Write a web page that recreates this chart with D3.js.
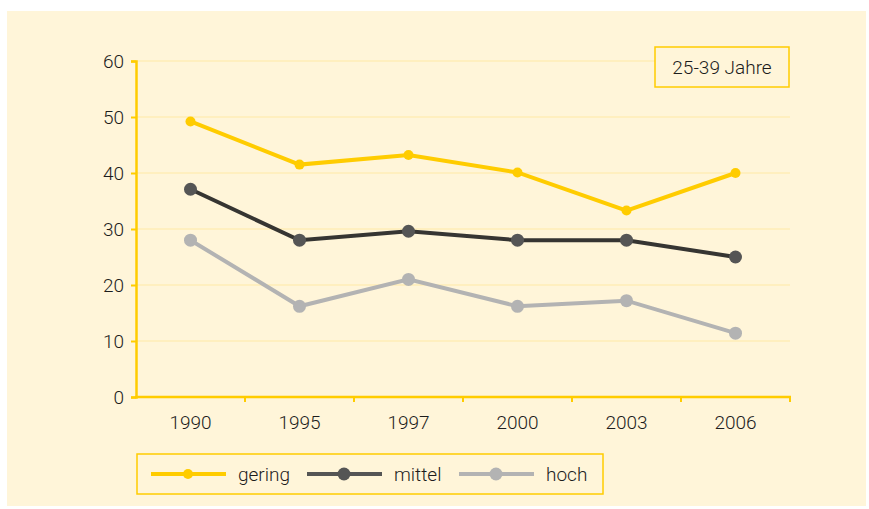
<!DOCTYPE html>
<html>
<head>
<meta charset="utf-8">
<script src="https://cdn.jsdelivr.net/npm/d3@7"></script>
<style>
  body { margin: 0; background: #fff; }
  text { font-family: Roboto, "DejaVu Sans Condensed", sans-serif; font-weight: 300; fill: #1c1c1c; }
</style>
</head>
<body>
<div id="chart"></div>
<script>
// data
const years = ["1990", "1995", "1997", "2000", "2003", "2006"];
const gering = [49.2, 41.5, 43.2, 40.1, 33.3, 40.0];
const mittel = [37.1, 28.0, 29.6, 28.0, 28.0, 25.0];
const hoch = [28.0, 16.2, 21.0, 16.2, 17.2, 11.4];
const yTicks = [0, 10, 20, 30, 40, 50, 60];
const label = "25-39 Jahre";

const series = [
  { name: "gering", values: gering, line: "#ffcc00", dot: "#ffcc00", key: "#ffcc00", r: 5 },
  { name: "mittel", values: mittel, line: "#363532", dot: "#555555", key: "#555555", r: 6.5 },
  { name: "hoch", values: hoch, line: "#b3b3b3", dot: "#b3b3b3", key: "#b3b3b3", r: 6.5 }
];

const width = 869;
const height = 509;
const margin = { top: 61, right: 79, bottom: 112, left: 136 };
const axisColor = "#ffcc00";
const fontSize = "19px";

const svg = d3.select("#chart")
  .append("svg")
  .attr("width", width)
  .attr("height", height);

// cream panel
svg.append("rect")
  .attr("x", 7).attr("y", 11)
  .attr("width", 859).attr("height", 495)
  .attr("fill", "#fff5d9");

const x = d3.scaleBand()
  .domain(years)
  .range([margin.left, width - margin.right]);

const y = d3.scaleLinear()
  .domain([0, 60])
  .range([height - margin.bottom, margin.top]);

// grid
svg.append("g")
  .selectAll("line")
  .data(yTicks.filter(d => d > 0))
  .join("line")
    .attr("x1", margin.left)
    .attr("x2", width - margin.right)
    .attr("y1", d => y(d))
    .attr("y2", d => y(d))
    .attr("stroke", "#ffe9a6")
    .attr("stroke-width", 1.2);

const yAxis = g => {
  g.attr("transform", `translate(${margin.left}, 0)`)
    .call(d3.axisLeft(y).tickValues(yTicks).tickSize(5).tickPadding(7))
    .attr("font-size", fontSize);
  g.select(".domain").attr("stroke", axisColor).attr("stroke-width", 2.5);
  g.selectAll(".tick line").attr("stroke", axisColor).attr("stroke-width", 2);
  g.selectAll(".tick text").attr("fill", "#1c1c1c").attr("dy", "0.35em");
};

// x axis ticks sit on the band boundaries
const xAxis = g => {
  g.attr("transform", `translate(0, ${y(0)})`);
  g.append("line")
    .attr("x1", margin.left - 1)
    .attr("x2", width - margin.right + 1)
    .attr("stroke", axisColor)
    .attr("stroke-width", 2.5);
  g.selectAll(".bt")
    .data(years.slice(1).concat(["end"]))
    .join("line")
      .attr("class", "bt")
      .attr("x1", (d, i) => i < years.length - 1 ? x(d) : x(years[years.length - 1]) + x.bandwidth())
      .attr("x2", (d, i) => i < years.length - 1 ? x(d) : x(years[years.length - 1]) + x.bandwidth())
      .attr("y1", 0)
      .attr("y2", 5)
      .attr("stroke", axisColor)
      .attr("stroke-width", 2);
  g.selectAll("text")
    .data(years)
    .join("text")
      .attr("x", d => x(d) + x.bandwidth() / 2)
      .attr("y", 32)
      .attr("text-anchor", "middle")
      .attr("font-size", fontSize)
      .text(d => d);
};

svg.append("g").call(yAxis);
svg.append("g").call(xAxis);

const line = d3.line()
  .x((d, i) => x(years[i]) + x.bandwidth() / 2)
  .y(d => y(d));

series.forEach(s => {
  svg.append("path")
    .datum(s.values)
    .attr("fill", "none")
    .attr("stroke", s.line)
    .attr("stroke-width", 4)
    .attr("d", line);
  svg.append("g")
    .selectAll("circle")
    .data(s.values)
    .join("circle")
      .attr("cx", (d, i) => x(years[i]) + x.bandwidth() / 2)
      .attr("cy", d => y(d))
      .attr("r", s.r)
      .attr("fill", s.dot);
});

// age label box
const lb = svg.append("g").attr("transform", "translate(655, 47)");
lb.append("rect")
  .attr("width", 134).attr("height", 40)
  .attr("fill", "#fff5d9")
  .attr("stroke", axisColor)
  .attr("stroke-width", 1.5);
lb.append("text")
  .attr("x", 67).attr("y", 20).attr("dy", "0.35em")
  .attr("text-anchor", "middle")
  .attr("font-size", fontSize)
  .text(label);

// legend
const legendX = [14, 170, 322];
const lg = svg.append("g").attr("transform", "translate(137, 454)");
lg.append("rect")
  .attr("width", 466).attr("height", 40)
  .attr("fill", "#fff5d9")
  .attr("stroke", axisColor)
  .attr("stroke-width", 1.5);
const item = lg.selectAll("g")
  .data(series)
  .join("g")
    .attr("transform", (d, i) => `translate(${legendX[i]}, 20)`);
item.append("line")
  .attr("x1", 0).attr("x2", 75)
  .attr("stroke", d => d.key)
  .attr("stroke-width", 4);
item.append("circle")
  .attr("cx", 37).attr("r", d => d.r)
  .attr("fill", d => d.dot);
item.append("text")
  .attr("x", 87).attr("dy", "0.35em")
  .attr("font-size", fontSize)
  .text(d => d.name);
</script>
</body>
</html>
